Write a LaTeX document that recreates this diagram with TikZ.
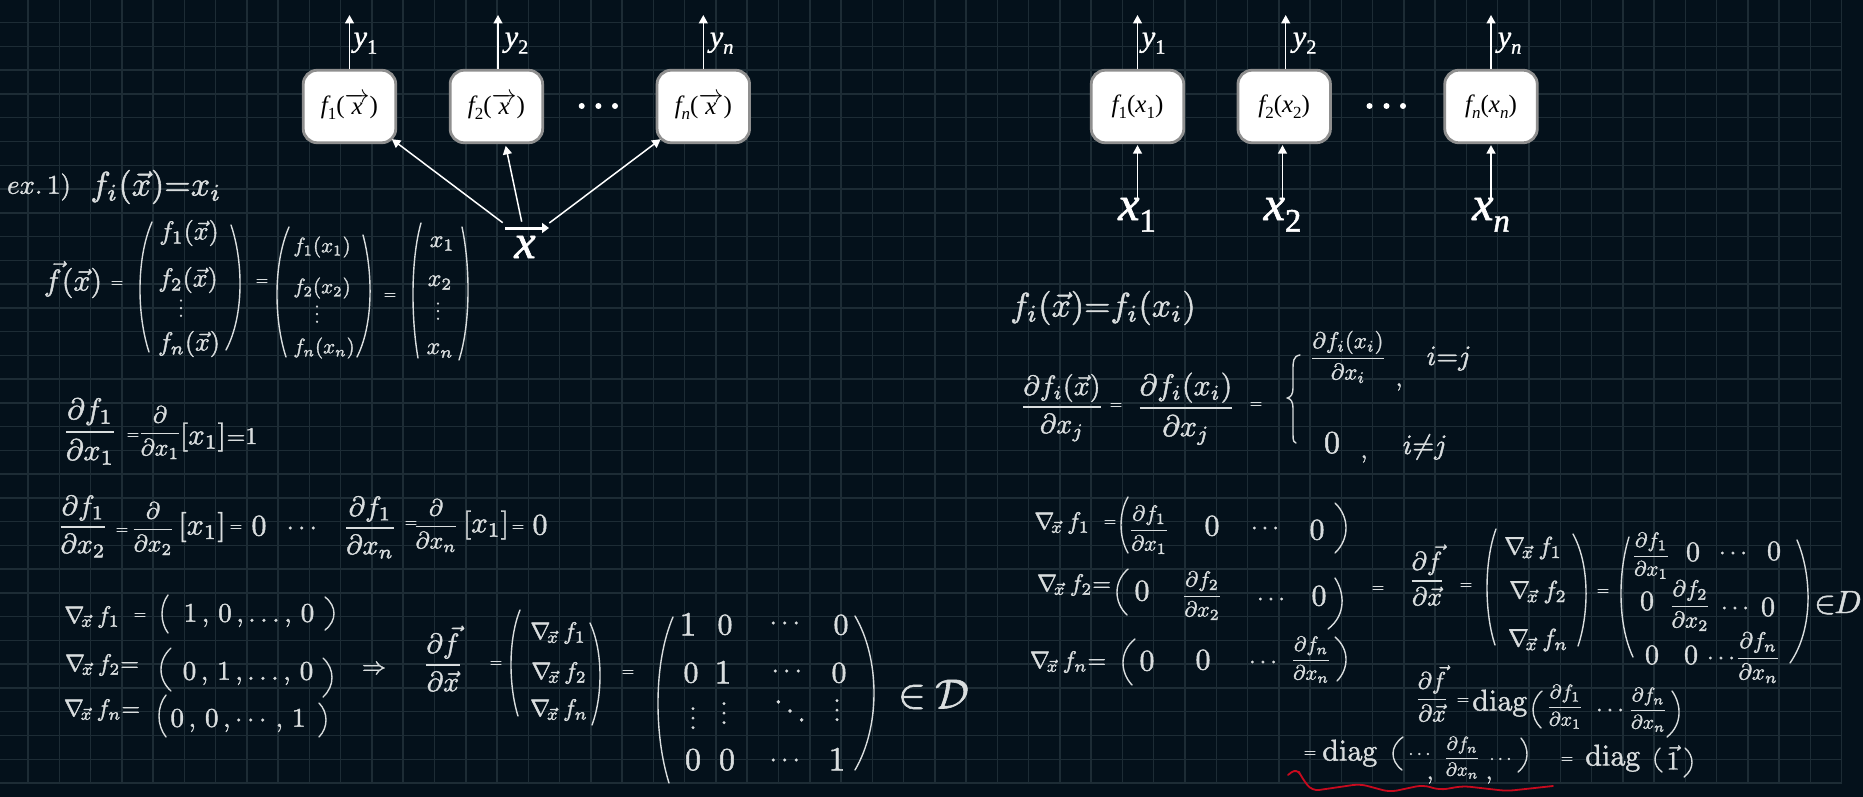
\documentclass[tikz,border=0pt]{standalone}
\usepackage{amsmath}
\usepackage{graphicx}
\usepackage[no-math]{fontspec}
\newfontfamily\dfont{Liberation Serif}
\usetikzlibrary{arrows.meta,calc}
\definecolor{bgc}{HTML}{04111B}
\definecolor{gridc}{HTML}{1D2C35}
\definecolor{chalk}{HTML}{D9DDDE}
\definecolor{boxedge}{HTML}{8F8F8F}
\definecolor{redink}{HTML}{C80A1E}
\newcommand{\sbs}[1]{\raisebox{-.24em}{\scalebox{.68}{#1}}}
\newcommand{\heavy}[2]{\special{pdf:code q 2 Tr #1 w}#2\special{pdf:code Q}}
\newcommand{\vx}{\raisebox{-.02em}{\scalebox{2.5}{\normalsize$\overrightarrow{\mbox{\fontsize{10}{12}\dfont\itshape x}}$}}}
\newcommand{\mypd}[2]{\dfrac{\partial #1}{\partial #2}}
\newcommand{\gr}[1]{\nabla_{\!\vec{x}}\, f_{#1}}
\newcounter{hwn}
\newcommand{\hwt}[4][2.4]{\stepcounter{hwn}\node[hw] (hw\thehwn) at (#2,{#3+2.5*#1}) {\scalebox{#1}{\heavy{0.14}{$#4$}}};}
\newcommand{\prn}[5]{\draw[chalkline] (#1,#2) .. controls ({#1+(#3-#1)/0.75},{#2+(#5-#2)*0.28}) and ({#4+(#3-#4)/0.75},{#5-(#5-#2)*0.28}) .. (#4,#5);}
\tikzset{
  x=1pt,y=-1pt,
  grid line/.style={gridc,line width=1.5pt},
  hw/.style={text=chalk,inner sep=0pt,anchor=base},
  chalkline/.style={chalk,line width=1.4pt,line cap=round},
  fbox/.style={draw=boxedge,fill=white,line width=2.8pt,rounded corners=14pt,minimum width=92.5pt,minimum height=72.5pt,inner sep=0pt,font=\dfont\fontsize{25}{28}\selectfont,text=black},
  ylab/.style={text=white,inner sep=0pt,anchor=base,font=\dfont\fontsize{30}{32}\selectfont},
  xlab/.style={text=white,inner sep=0pt,anchor=base,font=\dfont\fontsize{48}{50}\selectfont},
  dotn/.style={circle,fill=white,inner sep=0pt,minimum size=6pt},
  arr/.style={white,line width=1.5pt,-{Triangle[length=8.5pt,width=9pt]}},
  barr/.style={white,line width=3pt,-{Triangle[length=7pt,width=10pt]}},
}
\begin{document}
\begin{tikzpicture}
\useasboundingbox (0,0) rectangle (1863,797);
\fill[bgc] (0,0) rectangle (1863,797);
\foreach \k in {0,...,58} {\draw[grid line] ({28+31.27*\k},0) -- ({28+31.27*\k},783);}
\foreach \k in {0,...,32} {\draw[grid line] (0,{22.7+23.76*\k}) -- (1842,{22.7+23.76*\k});}

% ---------- left diagram
\node[fbox] (a1) at (349.5,106.5) {{\itshape f}\sbs{1}(\vx)};
\node[fbox] (a2) at (496.4,106.5) {{\itshape f}\sbs{2}(\vx)};
\node[fbox] (an) at (703.3,106.5) {{\itshape f}\sbs{\itshape n}(\vx)};
\coordinate (at1) at (349.5,15);
\coordinate (at2) at (498,15);
\coordinate (atn) at (703.3,15);
\draw[arr] (a1.north) -- (at1);
\draw[arr] (at2 |- a2.north) -- (at2);
\draw[arr] (an.north) -- (atn);
\node[ylab] (ay1) at (365.5,46.5) {\heavy{0.3}{{\itshape y}\sbs{1}}};
\node[ylab] (ay2) at (516.6,46.5) {\heavy{0.3}{{\itshape y}\sbs{2}}};
\node[ylab] (ayn) at (721.7,46.5) {\heavy{0.3}{{\itshape y}\sbs{\itshape n}}};
\node[dotn] (ad1) at (581.7,106) {};
\node[dotn] (ad2) at (598.4,106) {};
\node[dotn] (ad3) at (615,106) {};
\node[xlab] (ax) at (525,258) {\heavy{0.7}{\itshape x}};
\coordinate (xs) at (505,228);
\coordinate (xe) at (549,228);
\coordinate (c1) at (502.7,222.7);
\coordinate (c2) at (521.7,221.7);
\coordinate (c3) at (549.3,223);
\draw[barr] (xs) -- (xe);
\draw[arr] (c1) -- ([xshift=-5.3pt,yshift=5pt]a1.south east);
\draw[arr] (c2) -- ([xshift=9.3pt,yshift=-1.7pt]a2.south);
\draw[arr] (c3) -- ([xshift=5pt,yshift=5pt]an.south west);

% ---------- right diagram
\node[fbox] (b1) at (1137.5,106.5) {{\itshape f}\sbs{1}({\itshape x}\sbs{1})};
\node[fbox] (b2) at (1284.2,106.5) {{\itshape f}\sbs{2}({\itshape x}\sbs{2})};
\node[fbox] (bn) at (1491,106.5) {{\itshape f}\sbs{\itshape n}({\itshape x}\sbs{\itshape n})};
\coordinate (bt1) at (1137.5,15);
\coordinate (bt2) at (1285.7,15);
\coordinate (btn) at (1491,15);
\draw[arr] (b1.north) -- (bt1);
\draw[arr] (bt2 |- b2.north) -- (bt2);
\draw[arr] (bn.north) -- (btn);
\node[ylab] (by1) at (1153.7,46.5) {\heavy{0.3}{{\itshape y}\sbs{1}}};
\node[ylab] (by2) at (1304.7,46.5) {\heavy{0.3}{{\itshape y}\sbs{2}}};
\node[ylab] (byn) at (1509.6,46.5) {\heavy{0.3}{{\itshape y}\sbs{\itshape n}}};
\node[dotn] (bd1) at (1369.5,106) {};
\node[dotn] (bd2) at (1386.5,106) {};
\node[dotn] (bd3) at (1403,106) {};
\node[xlab] (bx1) at (1137,220) {\heavy{0.7}{{\itshape x}\sbs{1}}};
\node[xlab] (bx2) at (1282.5,220) {\heavy{0.7}{{\itshape x}\sbs{2}}};
\node[xlab] (bxn) at (1491,220) {\heavy{0.7}{{\itshape x}\sbs{\itshape n}}};
\draw[arr,shorten >=1pt] (bx1.north -| b1.south) -- (b1.south);
\draw[arr,shorten >=1pt] (bx2.north) -- (bx2.north |- b2.south);
\draw[arr,shorten >=1pt] (bxn.north -| bn.south) -- (bn.south);

% ---------- left notes
\hwt[2.7]{39}{187}{ex.\,1)}
\hwt[3.4]{156}{187}{f_i(\vec{x}){=}x_i}
\hwt[3]{73}{283}{\vec{f}(\vec{x})}
\hwt[1.6]{117}{283}{=}
\prn{152}{222}{140}{149}{352}
\prn{231}{225}{240}{226}{350}
\hwt[2.6]{189}{233}{f_1(\vec{x})}
\hwt[2.6]{188}{280}{f_2(\vec{x})}
\hwt[1.9]{181}{312}{\vdots}
\hwt[2.6]{189}{344}{f_n(\vec{x})}
\hwt[1.6]{262}{281}{=}
\prn{289}{227}{277}{286}{357}
\prn{363}{235}{370}{357}{357}
\hwt[2.1]{322}{247}{f_1(x_1)}
\hwt[2.1]{322}{288}{f_2(x_2)}
\hwt[1.9]{317}{318}{\vdots}
\hwt[2.1]{324}{348}{f_n(x_n)}
\hwt[1.6]{390}{295}{=}
\prn{421}{223}{413}{418}{358}
\prn{462}{227}{468}{459}{360}
\hwt[2.4]{442}{241}{x_1}
\hwt[2.4]{440}{280}{x_2}
\hwt[1.9]{438}{315}{\vdots}
\hwt[2.4]{440}{348}{x_n}

\hwt[3]{90}{432}{\mypd{f_1}{x_1}}
\hwt[1.6]{133}{435}{=}
\hwt[2.4]{160}{433}{\mypd{}{x_1}}
\hwt[2.9]{203}{437}{[x_1]}
\hwt[2.4]{242}{438}{{=}1}

\hwt[2.8]{83}{527}{\mypd{f_1}{x_2}}
\hwt[1.6]{122}{530}{=}
\hwt[2.4]{153}{529}{\mypd{}{x_2}}
\hwt[3]{202}{527}{[x_1]}
\hwt[1.6]{236}{527}{=}
\hwt[3]{259}{528}{0}
\hwt[2.6]{304}{528}{\cdots}
\hwt[2.8]{370}{528}{\mypd{f_1}{x_n}}
\hwt[1.6]{411}{523}{=}
\hwt[2.4]{436}{526}{\mypd{}{x_n}}
\hwt[2.9]{486}{525}{[x_1]}
\hwt[1.6]{518}{527}{=}
\hwt[3]{540}{527}{0}

\hwt{92}{617}{\gr{1}}
\hwt[1.6]{140}{615}{=}
\prn{168}{595}{162}{168}{633}
\prn{325}{597}{334}{325}{630}
\hwt[2.7]{249}{615}{1\,,\,0\,,\dots,\,0}
\hwt{102}{665}{\gr{2}{=}}
\prn{171}{648}{161}{171}{691}
\prn{323}{658}{332}{323}{697}
\hwt[2.7]{248}{673}{0\,,\,1\,,\dots,\,0}
\hwt{102}{710}{\gr{n}{=}}
\prn{166}{695}{159}{166}{737}
\prn{319}{703}{326}{319}{737}
\hwt[2.7]{238}{720}{0\,,\,0\,,\cdots,\,1}
\hwt{374}{668}{\Rightarrow}
\hwt[2.8]{443}{665}{\mypd{\vec{f}}{\vec{x}}}
\hwt[1.6]{496}{663}{=}
\prn{520}{610}{511}{518}{716}
\hwt{558}{633}{\gr{1}}
\hwt{559}{673}{\gr{2}}
\hwt{559}{710}{\gr{n}}
\prn{590}{623}{600}{592}{725}
\hwt[1.6]{628}{672}{=}
\prn{673}{617}{658}{669}{783}
\prn{855}{616}{874}{855}{770}
\hwt[3.4]{688}{627}{1}
\hwt[3]{725}{627}{0}
\hwt[2.6]{787}{623}{\cdots}
\hwt[3]{841}{627}{0}
\hwt[3]{691}{675}{0}
\hwt[3.4]{723}{675}{1}
\hwt[2.6]{789}{671}{\cdots}
\hwt[3]{839}{675}{0}
\hwt{693}{723}{\vdots}
\hwt{724}{718}{\vdots}
\hwt[3]{790}{717}{\ddots}
\hwt{837}{715}{\vdots}
\hwt[3.2]{693}{762}{0}
\hwt[3.2]{727}{762}{0}
\hwt[2.6]{787}{760}{\cdots}
\hwt[3.4]{837}{762}{1}
\hwt[4.2]{912}{697}{\in}
\hwt[4.2]{952}{698}{\mathcal{D}}

% ---------- right notes
\hwt[3.4]{1103}{308}{f_i(\vec{x}){=}f_i(x_i)}
\hwt[2.8]{1062}{407}{\mypd{f_i(\vec{x})}{x_j}}
\hwt[1.6]{1116}{405}{=}
\hwt[3]{1186}{408}{\mypd{f_i(x_i)}{x_j}}
\hwt[1.6]{1256}{404}{=}
\draw[chalkline] (1300,355) .. controls (1293,356) and (1293,362) .. (1293,370) -- (1293,388) .. controls (1293,394) and (1291,397) .. (1287.5,398) .. controls (1291,399) and (1293,402) .. (1293,408) -- (1293,435) .. controls (1293,441) and (1294,443) .. (1296,443);
\hwt[2.3]{1348}{358}{\mypd{f_i(x_i)}{x_i}}
\hwt{1399}{380}{,}
\hwt[2.8]{1449}{358}{i{=}j}
\hwt[3.2]{1332}{445}{0}
\hwt{1364}{452}{,}
\hwt[2.8]{1425}{447}{i{\neq}j}

\hwt{1062}{523}{\gr{1}}
\hwt[1.6]{1110}{522}{=}
\prn{1128}{497}{1121}{1128}{553}
\prn{1335}{503}{1346}{1335}{553}
\hwt[2.2]{1149}{530}{\mypd{f_1}{x_1}}
\hwt[3]{1212}{528}{0}
\hwt[2.4]{1267}{528}{\cdots}
\hwt[3]{1317}{532}{0}
\hwt{1074}{585}{\gr{2}{=}}
\prn{1128}{569}{1117}{1127}{615}
\prn{1335}{578}{1342}{1328}{629}
\hwt[3]{1142}{593}{0}
\hwt[2.2]{1202}{596}{\mypd{f_2}{x_2}}
\hwt[2.4]{1273}{599}{\cdots}
\hwt[3]{1319}{598}{0}
\hwt{1068}{662}{\gr{n}{=}}
\prn{1135}{639}{1123}{1132}{685}
\prn{1335}{637}{1346}{1337}{681}
\hwt[3]{1147}{663}{0}
\hwt[3]{1203}{662}{0}
\hwt[2.4]{1265}{662}{\cdots}
\hwt[2.1]{1311}{660}{\mypd{f_n}{x_n}}
\hwt[1.6]{1378}{588}{=}
\hwt[2.6]{1427}{581}{\mypd{\vec{f}}{\vec{x}}}
\hwt[1.6]{1466}{585}{=}
\prn{1496}{529}{1487}{1495}{645}
\prn{1573}{534}{1586}{1578}{646}
\hwt[2.5]{1533}{548}{\gr{1}}
\hwt[2.5]{1538}{592}{\gr{2}}
\hwt[2.5]{1538}{640}{\gr{n}}
\hwt[1.6]{1603}{591}{=}
\prn{1629}{537}{1621}{1633}{657}
\prn{1797}{540}{1808}{1790}{663}
\hwt[2.1]{1651}{556}{\mypd{f_1}{x_1}}
\hwt[2.8]{1693}{554}{0}
\hwt{1735}{553}{\cdots}
\hwt[2.8]{1774}{553}{0}
\hwt[2.8]{1647}{603}{0}
\hwt[2.3]{1690}{606}{\mypd{f_2}{x_2}}
\hwt{1737}{608}{\cdots}
\hwt[2.8]{1768}{609}{0}
\hwt[2.8]{1652}{657}{0}
\hwt[2.8]{1691}{657}{0}
\hwt{1723}{658}{\cdots}
\hwt[2.3]{1758}{658}{\mypd{f_n}{x_n}}
\hwt[3.2]{1825}{605}{\in}
\hwt[3.2]{1848}{605}{D}

\hwt[2.4]{1432}{699}{\mypd{\vec{f}}{\vec{x}}}
\hwt[1.6]{1463}{700}{=}
\hwt[3]{1500}{703}{\mathrm{diag}}
\prn{1542}{691}{1533}{1541}{728}
\prn{1672}{691}{1679}{1667}{737}
\hwt[2]{1565}{707}{\mypd{f_1}{x_1}}
\hwt{1612}{710}{\cdots}
\hwt[2]{1648}{710}{\mypd{f_n}{x_n}}

\hwt[1.6]{1310}{753}{=}
\hwt[3]{1350}{753}{\mathrm{diag}}
\prn{1403}{737}{1393}{1402}{770}
\hwt[1.9]{1421}{754}{\cdots}
\hwt{1430}{773}{,}
\hwt[1.9]{1462}{758}{\mypd{f_n}{x_n}}
\hwt{1489}{773}{,}
\hwt[1.9]{1502}{759}{\cdots}
\prn{1521}{738}{1527}{1518}{772}
\hwt[1.6]{1567}{759}{=}
\hwt[3]{1613}{758}{\mathrm{diag}}
\prn{1660}{748}{1655}{1662}{772}
\hwt[2.6]{1673}{763}{\vec{1}}
\prn{1685}{748}{1692}{1684}{777}

\draw[redink,line width=1.8pt,line cap=round,line join=round,rounded corners=7pt]
  (1288,775) -- (1297,768) -- (1302,778) -- (1312,791) -- (1360,784) -- (1390,792) -- (1423,785) -- (1440,790) -- (1463,786) -- (1507,791) -- (1553,786);
\end{tikzpicture}
\end{document}
